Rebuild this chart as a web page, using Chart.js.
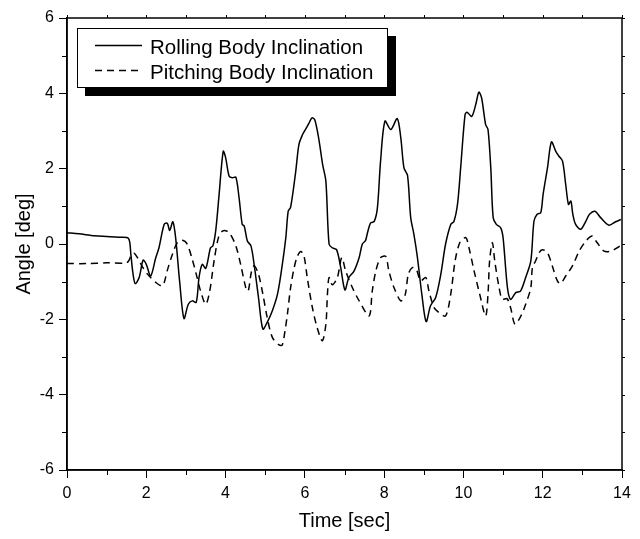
<!DOCTYPE html>
<html>
<head>
<meta charset="utf-8">
<script src="https://cdn.jsdelivr.net/npm/chart.js@4.4.1/dist/chart.umd.min.js"></script>
<style>
  body { margin: 0; background: #fff; }
  #wrap { width: 640px; height: 539px; }
</style>
</head>
<body>
<div id="wrap"><canvas id="chartInclination" width="640" height="539"></canvas></div>
<script>
/* Datos */
const rollTime = [0.00, 0.30, 0.70, 1.00, 1.30, 1.55, 1.61, 1.66, 1.72, 1.82, 1.92, 2.00, 2.11, 2.24, 2.32, 2.45, 2.53, 2.59, 2.67, 2.74, 2.84, 2.95, 3.06, 3.16, 3.26, 3.33, 3.41, 3.50, 3.62, 3.68, 3.75, 3.83, 3.94, 4.00, 4.09, 4.17, 4.26, 4.34, 4.42, 4.47, 4.55, 4.64, 4.72, 4.83, 4.94, 5.05, 5.18, 5.31, 5.42, 5.52, 5.58, 5.64, 5.77, 5.85, 5.94, 6.02, 6.10, 6.18, 6.25, 6.35, 6.45, 6.53, 6.61, 6.69, 6.80, 6.90, 7.01, 7.11, 7.24, 7.37, 7.45, 7.53, 7.58, 7.66, 7.75, 7.83, 7.91, 8.02, 8.17, 8.33, 8.42, 8.50, 8.59, 8.67, 8.75, 8.84, 8.95, 9.06, 9.17, 9.30, 9.43, 9.55, 9.68, 9.76, 9.85, 9.93, 10.04, 10.09, 10.21, 10.31, 10.39, 10.46, 10.56, 10.62, 10.69, 10.75, 10.83, 10.94, 11.00, 11.11, 11.19, 11.32, 11.44, 11.57, 11.70, 11.78, 11.86, 11.95, 12.01, 12.12, 12.22, 12.33, 12.41, 12.50, 12.58, 12.65, 12.71, 12.76, 12.83, 12.96, 13.09, 13.18, 13.32, 13.46, 13.67, 13.84, 13.97];
const rollAngle = [0.30, 0.27, 0.22, 0.20, 0.18, 0.15, -0.27, -0.75, -1.05, -0.89, -0.43, -0.54, -0.85, -0.36, -0.10, 0.52, 0.55, 0.36, 0.59, 0.17, -0.98, -1.98, -1.60, -1.51, -1.55, -0.89, -0.54, -0.65, -0.10, -0.05, 0.34, 1.23, 2.46, 2.30, 1.80, 1.76, 1.77, 1.23, 0.52, 0.48, 0.08, -0.05, -0.54, -1.42, -2.26, -2.08, -1.77, -1.33, -0.63, 0.17, 0.87, 0.97, 1.93, 2.64, 2.90, 3.05, 3.20, 3.35, 3.30, 2.80, 2.10, 1.67, 0.00, -0.10, -0.15, -0.60, -1.22, -0.89, -0.72, -0.36, 0.00, 0.09, 0.30, 0.56, 0.60, 0.96, 2.20, 3.26, 3.04, 3.33, 2.82, 2.02, 1.82, 0.70, 0.26, -0.36, -1.33, -2.06, -1.64, -1.42, -0.80, 0.00, 0.52, 0.60, 1.05, 2.02, 3.43, 3.50, 3.39, 3.70, 4.03, 3.87, 3.17, 3.04, 2.02, 0.70, 0.52, 0.43, 0.17, -1.16, -1.47, -1.29, -1.25, -0.89, -0.45, 0.61, 0.79, 0.83, 1.32, 2.02, 2.71, 2.46, 2.33, 2.20, 1.58, 1.05, 1.14, 0.79, 0.52, 0.39, 0.61, 0.79, 0.87, 0.70, 0.50, 0.59, 0.65];

const pitchTime = [0.00, 0.50, 1.00, 1.50, 1.57, 1.63, 1.70, 1.77, 1.90, 2.03, 2.24, 2.41, 2.53, 2.66, 2.78, 2.91, 3.03, 3.16, 3.26, 3.37, 3.50, 3.60, 3.71, 3.82, 3.92, 4.04, 4.12, 4.26, 4.38, 4.51, 4.57, 4.65, 4.72, 4.83, 4.94, 5.05, 5.18, 5.35, 5.43, 5.50, 5.56, 5.64, 5.73, 5.81, 5.90, 5.98, 6.06, 6.19, 6.31, 6.44, 6.53, 6.57, 6.61, 6.69, 6.82, 6.93, 7.03, 7.20, 7.37, 7.62, 7.70, 7.79, 7.91, 8.04, 8.12, 8.25, 8.42, 8.53, 8.61, 8.71, 8.81, 8.92, 9.05, 9.13, 9.26, 9.38, 9.55, 9.68, 9.79, 9.91, 10.06, 10.14, 10.27, 10.41, 10.56, 10.62, 10.66, 10.73, 10.79, 10.90, 10.98, 11.10, 11.19, 11.30, 11.45, 11.57, 11.70, 11.74, 11.82, 11.91, 11.99, 12.12, 12.24, 12.37, 12.45, 12.58, 12.75, 12.92, 13.09, 13.25, 13.37, 13.55, 13.72, 13.88, 14.00];
const pitchAngle = [-0.52, -0.52, -0.50, -0.50, -0.42, -0.27, -0.25, -0.35, -0.60, -0.80, -1.02, -1.11, -0.70, -0.27, 0.03, 0.10, 0.00, -0.41, -0.80, -1.25, -1.60, -1.25, -0.45, 0.17, 0.34, 0.34, 0.26, -0.05, -0.54, -1.16, -1.25, -0.75, -0.58, -0.80, -1.33, -1.95, -2.48, -2.68, -2.68, -2.30, -1.86, -1.16, -0.63, -0.33, -0.20, -0.33, -0.89, -1.69, -2.22, -2.57, -2.13, -1.33, -0.89, -1.08, -0.89, -0.36, -0.72, -1.16, -1.51, -1.91, -1.25, -0.72, -0.36, -0.33, -0.72, -1.16, -1.51, -1.35, -0.80, -0.63, -0.67, -0.98, -0.89, -1.25, -1.69, -1.82, -1.91, -1.33, -0.45, 0.04, 0.17, -0.10, -0.72, -1.33, -1.91, -1.33, -0.45, 0.04, -0.45, -1.16, -1.47, -1.45, -1.69, -2.13, -1.91, -1.60, -1.16, -0.63, -0.45, -0.23, -0.15, -0.23, -0.58, -0.98, -1.05, -0.85, -0.58, -0.19, 0.08, 0.21, 0.04, -0.19, -0.19, -0.10, -0.02];

const seriesLabels = ['Rolling Body Inclination', 'Pitching Body Inclination'];
const xTitle = 'Time [sec]';
const yTitle = 'Angle [deg]';

const toPoints = (xs, ys) => xs.map((v, i) => ({ x: v, y: ys[i] }));

Chart.defaults.font.family = "'Liberation Sans', Arial, sans-serif";
Chart.defaults.color = '#000';

/* Marco, ticks menores y leyenda con sombra */
const framePlugin = {
  id: 'frame',
  afterDraw(chart) {
    const { ctx, chartArea: a, scales } = chart;
    const x = scales.x;
    const y = scales.y;
    ctx.save();
    ctx.strokeStyle = '#000';
    ctx.lineWidth = 1.5;
    ctx.strokeRect(a.left, a.top, a.right - a.left, a.bottom - a.top);

    ctx.lineWidth = 1;
    ctx.beginPath();
    for (let v = 0; v <= 14; v++) {
      let px = Math.round(x.getPixelForValue(v)) + 0.5;
      if (v % 2 === 1) {
        ctx.moveTo(px, a.bottom);
        ctx.lineTo(px, a.bottom + 5);
      }
      ctx.moveTo(px, a.top);
      ctx.lineTo(px, a.top - 3);
    }
    for (let v = -6; v <= 6; v++) {
      let py = Math.round(y.getPixelForValue(v)) + 0.5;
      if (Math.abs(v) % 2 === 1) {
        ctx.moveTo(a.left, py);
        ctx.lineTo(a.left - 5, py);
      }
      ctx.moveTo(a.right, py);
      ctx.lineTo(a.right + 3, py);
    }
    ctx.stroke();

    // leyenda
    ctx.fillStyle = '#000';
    ctx.fillRect(85, 36, 311, 60);
    ctx.fillStyle = '#fff';
    ctx.fillRect(77, 28, 311, 60);
    ctx.lineWidth = 1;
    ctx.strokeRect(77.5, 28.5, 310, 59);

    ctx.font = "20.5px 'Liberation Sans', Arial, sans-serif";
    ctx.textBaseline = 'alphabetic';
    ctx.textAlign = 'left';
    chart.data.datasets.forEach((ds, i) => {
      let ly = 45.5 + i * 25;
      ctx.beginPath();
      ctx.lineWidth = ds.borderWidth;
      ctx.setLineDash(ds.borderDash || []);
      ctx.moveTo(95, ly);
      ctx.lineTo(142, ly);
      ctx.stroke();
      ctx.setLineDash([]);
      ctx.fillStyle = '#000';
      ctx.fillText(ds.label, 150, ly + 8);
    });
    ctx.restore();
  },
};

const ctx = document.getElementById('chartInclination').getContext('2d');
const chartInclination = new Chart(ctx, {
  type: 'line',
  plugins: [framePlugin],
  data: {
    datasets: [
      {
        label: seriesLabels[0],
        data: toPoints(rollTime, rollAngle),
        borderColor: '#000',
        borderWidth: 1.5,
        pointRadius: 0,
        tension: 0.3,
      },
      {
        label: seriesLabels[1],
        data: toPoints(pitchTime, pitchAngle),
        borderColor: '#000',
        borderWidth: 1.5,
        borderDash: [7, 5],
        pointRadius: 0,
        tension: 0.3,
      },
    ],
  },
  options: {
    responsive: false,
    animation: false,
    layout: { padding: { top: 18, right: 18, left: 0, bottom: 0 } },
    plugins: {
      legend: { display: false },
      tooltip: { enabled: false },
    },
    scales: {
      x: {
        type: 'linear',
        min: 0,
        max: 14,
        afterFit: (s) => { s.height = 69; },
        ticks: { stepSize: 2, padding: 6, font: { size: 16 }, color: '#000' },
        grid: { drawOnChartArea: false, tickLength: 8, color: '#000' },
        border: { color: '#000', width: 1.5 },
        title: {
          display: true,
          text: xTitle,
          font: { size: 20 },
          padding: { top: 0, bottom: 6 },
        },
      },
      y: {
        min: -6,
        max: 6,
        afterFit: (s) => { s.width = 67; },
        ticks: { stepSize: 2, padding: 5, font: { size: 16 }, color: '#000' },
        grid: { drawOnChartArea: false, tickLength: 8, color: '#000' },
        border: { color: '#000', width: 1.5 },
        title: {
          display: true,
          text: yTitle,
          font: { size: 20 },
          padding: { top: 12, bottom: 0 },
        },
      },
    },
  },
});
</script>
</body>
</html>
